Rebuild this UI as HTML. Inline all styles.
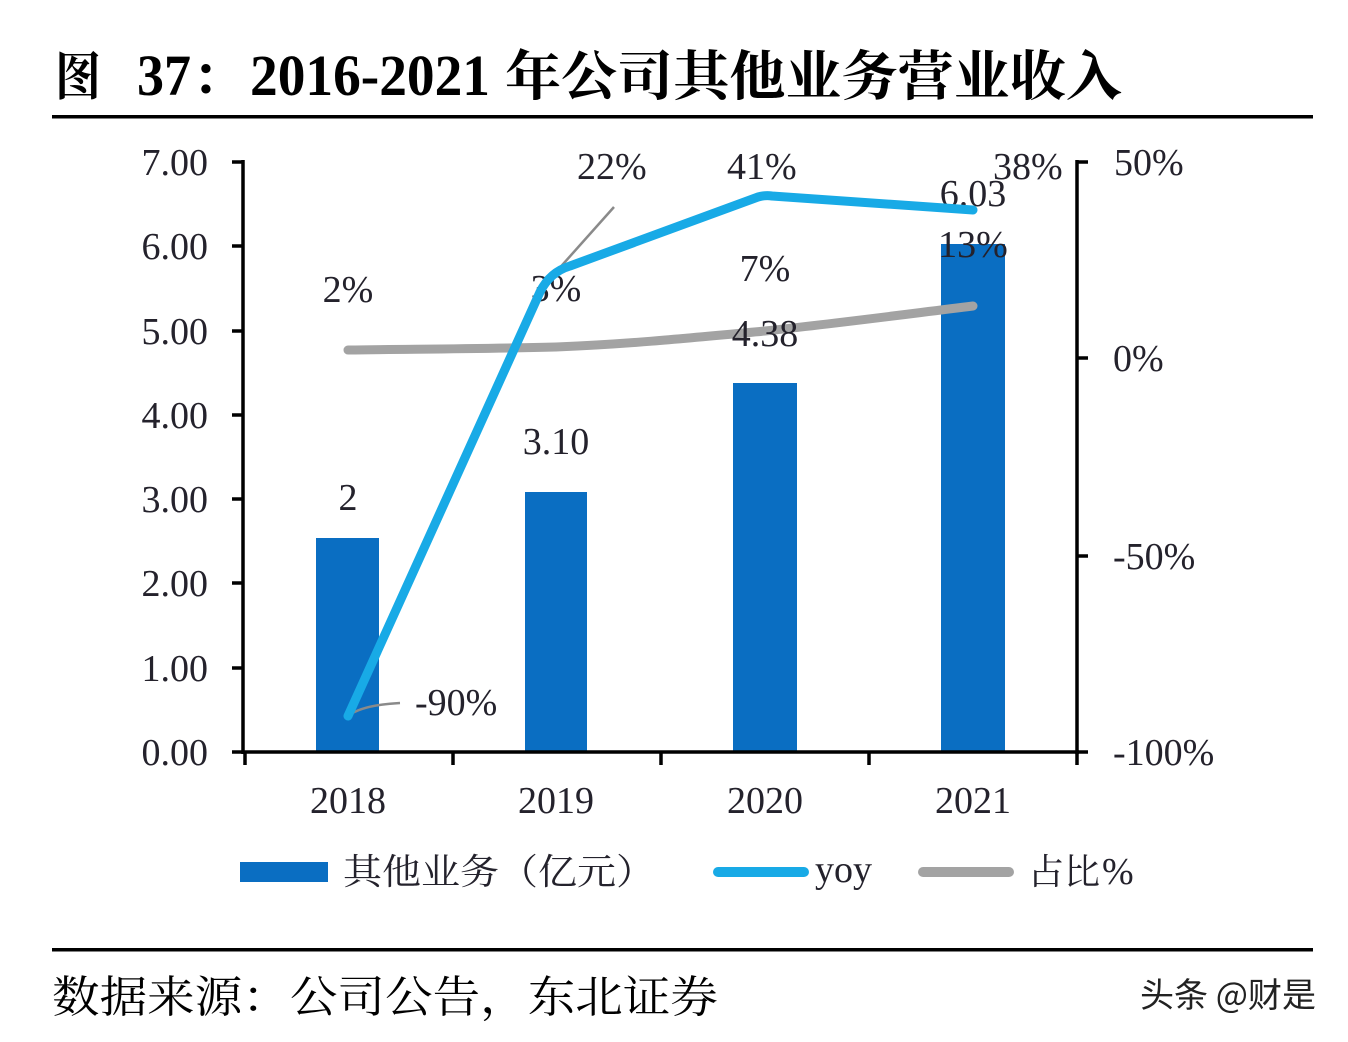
<!DOCTYPE html>
<html><head><meta charset="utf-8"><style>
html,body{margin:0;padding:0;background:#fff;}
svg{display:block;}
.s{font-family:"Liberation Serif","Noto Serif CJK SC",serif;fill:#24222c;}
.c{font-family:"Liberation Serif","Noto Serif CJK SC",serif;fill:#24222c;}
</style></head><body>
<svg width="1348" height="1042" viewBox="0 0 1348 1042" xmlns="http://www.w3.org/2000/svg">
<rect width="1348" height="1042" fill="#fff"/>
<!-- Title -->
<g font-weight="bold" fill="#000">
<text x="55" y="95" font-size="52" font-family="Noto Serif CJK SC, serif" textLength="46" lengthAdjust="spacingAndGlyphs">图</text>
<text x="137" y="95" font-size="58" font-family="Liberation Serif, serif" textLength="54" lengthAdjust="spacingAndGlyphs">37</text>
<text x="192" y="95" font-size="52" font-family="Noto Serif CJK SC, serif">：</text>
<text x="250" y="95" font-size="58" font-family="Liberation Serif, serif" textLength="240" lengthAdjust="spacingAndGlyphs">2016-2021</text>
<text x="505" y="95" font-size="54" font-family="Noto Serif CJK SC, serif" textLength="617" lengthAdjust="spacingAndGlyphs">年公司其他业务营业收入</text>
</g>
<rect x="52" y="115" width="1261" height="3.5" fill="#000"/>

<!-- Bars -->
<g fill="#0a6ec2">
<rect x="316" y="538" width="63" height="214"/>
<rect x="525" y="492" width="62" height="260"/>
<rect x="733" y="383" width="64" height="369"/>
<rect x="941" y="244" width="64" height="508"/>
</g>

<!-- Axes -->
<g stroke="#000" stroke-width="3.5" fill="none">
<line x1="243" y1="160" x2="243" y2="754"/>
<line x1="1077" y1="160" x2="1077" y2="754"/>
<line x1="232" y1="752" x2="1079" y2="752"/>
<line x1="232" y1="162" x2="243" y2="162"/>
<line x1="232" y1="246" x2="243" y2="246"/>
<line x1="232" y1="331" x2="243" y2="331"/>
<line x1="232" y1="415" x2="243" y2="415"/>
<line x1="232" y1="499" x2="243" y2="499"/>
<line x1="232" y1="583" x2="243" y2="583"/>
<line x1="232" y1="668" x2="243" y2="668"/>
<line x1="1077" y1="162" x2="1088" y2="162"/>
<line x1="1077" y1="358" x2="1088" y2="358"/>
<line x1="1077" y1="556" x2="1088" y2="556"/>
<line x1="1077" y1="752" x2="1088" y2="752"/>
<line x1="245" y1="752" x2="245" y2="765"/>
<line x1="453" y1="752" x2="453" y2="765"/>
<line x1="661" y1="752" x2="661" y2="765"/>
<line x1="869" y1="752" x2="869" y2="765"/>
<line x1="1077" y1="752" x2="1077" y2="765"/>
</g>

<!-- Left axis labels -->
<g class="s" font-size="38" text-anchor="end">
<text x="208" y="175">7.00</text>
<text x="208" y="259">6.00</text>
<text x="208" y="344">5.00</text>
<text x="208" y="428">4.00</text>
<text x="208" y="512">3.00</text>
<text x="208" y="596">2.00</text>
<text x="208" y="681">1.00</text>
<text x="208" y="765">0.00</text>
</g>
<!-- Right axis labels -->
<g class="s" font-size="38">
<text x="1114" y="175">50%</text>
<text x="1113" y="371">0%</text>
<text x="1113" y="569">-50%</text>
<text x="1113" y="765">-100%</text>
</g>
<!-- Category labels -->
<g class="s" font-size="38" text-anchor="middle">
<text x="348" y="813">2018</text>
<text x="556" y="813">2019</text>
<text x="765" y="813">2020</text>
<text x="973" y="813">2021</text>
</g>

<!-- Labels behind lines -->
<g class="s" font-size="38" text-anchor="middle">
<text x="348" y="302">2%</text>
<text x="556" y="301">3%</text>
<text x="765" y="281">7%</text>
<text x="556" y="454">3.10</text>
<text x="348" y="510">2</text>
<text x="973" y="206">6.03</text>
</g>

<!-- Gray line -->
<path d="M348,350 C420,349 480,349 556,347 C630,344 690,338 765,331 C840,323 900,315 973,306" fill="none" stroke="#a3a3a3" stroke-width="9" stroke-linecap="round" stroke-linejoin="round"/>

<g class="s" font-size="38" text-anchor="middle">
<text x="765" y="346">4.38</text>
</g>

<!-- Leader lines -->
<path d="M348,716 Q362,705 400,703" fill="none" stroke="#8a8a8a" stroke-width="2.5"/>
<line x1="556" y1="272" x2="614" y2="207" stroke="#8a8a8a" stroke-width="2.5"/>

<!-- YoY line -->
<path d="M348,716 L540,292 Q550,272 570,266 L758,197 Q765,195 772,196 L973,210" fill="none" stroke="#18aae6" stroke-width="9" stroke-linecap="round" stroke-linejoin="round"/>

<g class="s" font-size="38" text-anchor="middle">
<text x="973" y="257">13%</text>
</g>

<!-- YoY labels -->
<g class="s" font-size="38">
<text x="415" y="715">-90%</text>
<text x="577" y="179">22%</text>
<text x="727" y="179">41%</text>
<text x="993" y="179">38%</text>
</g>

<!-- Legend -->
<rect x="240" y="862" width="88" height="20" fill="#0a6ec2"/>
<text x="343" y="884" class="c" font-size="36" font-family="Noto Serif CJK SC, serif" textLength="312" lengthAdjust="spacingAndGlyphs">其他业务（亿元）</text>
<line x1="718" y1="872" x2="804" y2="872" stroke="#18aae6" stroke-width="10" stroke-linecap="round"/>
<text x="815" y="882" class="s" font-size="38">yoy</text>
<line x1="923" y1="872" x2="1009" y2="872" stroke="#a3a3a3" stroke-width="10" stroke-linecap="round"/>
<text x="1028" y="884" class="c" font-size="36" font-family="Noto Serif CJK SC, serif" textLength="72" lengthAdjust="spacingAndGlyphs">占比</text>
<text x="1102" y="884" class="s" font-size="38">%</text>

<!-- Bottom -->
<rect x="52" y="948" width="1261" height="3.5" fill="#000"/>
<text x="52" y="1012" font-size="44" font-family="Noto Serif CJK SC, serif" fill="#000" textLength="666" lengthAdjust="spacingAndGlyphs">数据来源：公司公告，东北证券</text>
<text x="1140" y="1007" font-size="34" font-family="Noto Sans CJK SC, sans-serif" fill="#222" textLength="176" lengthAdjust="spacingAndGlyphs">头条 @财是</text>
</svg>
</body></html>
